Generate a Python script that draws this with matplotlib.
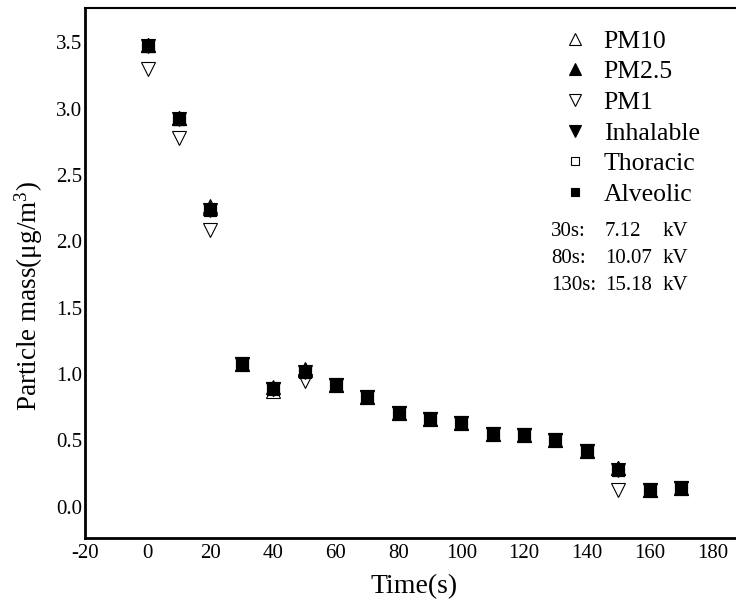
import matplotlib.pyplot as plt

plt.rcParams['font.family'] = ['Liberation Serif', 'DejaVu Serif']
plt.rcParams['mathtext.fontset'] = 'custom'
plt.rcParams['mathtext.rm'] = 'Liberation Serif'
plt.rcParams['axes.unicode_minus'] = False

# Data
time = [0, 10, 20, 30, 40, 50, 60, 70, 80, 90, 100, 110, 120, 130, 140, 150, 160, 170]
pm10 = [3.48, 2.93, 2.27, 1.08, 0.87, 1.03, 0.92, 0.83, 0.71, 0.66, 0.63, 0.55, 0.54, 0.50, 0.42, 0.29, 0.13, 0.14]
pm25 = [3.48, 2.93, 2.25, 1.08, 0.90, 1.04, 0.92, 0.83, 0.71, 0.66, 0.63, 0.55, 0.54, 0.50, 0.42, 0.29, 0.13, 0.14]
pm1 = [3.30, 2.78, 2.09, 1.08, 0.89, 0.95, 0.92, 0.83, 0.71, 0.66, 0.63, 0.55, 0.54, 0.50, 0.42, 0.13, 0.13, 0.14]
inhalable = [3.47, 2.92, 2.24, 1.08, 0.89, 1.02, 0.92, 0.83, 0.71, 0.66, 0.63, 0.55, 0.54, 0.50, 0.42, 0.28, 0.13, 0.14]
thoracic = [3.47, 2.92, 2.24, 1.08, 0.89, 1.02, 0.92, 0.83, 0.71, 0.66, 0.63, 0.55, 0.54, 0.50, 0.42, 0.28, 0.13, 0.14]
alveolic = [3.47, 2.92, 2.24, 1.08, 0.89, 1.02, 0.92, 0.83, 0.71, 0.66, 0.63, 0.55, 0.54, 0.50, 0.42, 0.28, 0.13, 0.14]

voltage_times = ['30s:', '80s:', '130s:']
voltages = ['7.12', '10.07', '15.18']

fig = plt.figure(figsize=(7.36, 6.04), dpi=100)
ax = fig.add_axes([85 / 736, (604 - 538) / 604, 690 / 736, 530 / 604])

series = [
    (pm10, '^', 'white', 'PM10'),
    (pm25, '^', 'black', 'PM2.5'),
    (pm1, 'v', 'white', 'PM1'),
    (inhalable, 'v', 'black', 'Inhalable'),
    (thoracic, 's', 'white', 'Thoracic'),
    (alveolic, 's', 'black', 'Alveolic'),
]
for vals, m, fc, lab in series:
    ms = 8 if m == 's' else 10
    ax.plot(time, vals, linestyle='none', marker=m, markersize=ms,
            markerfacecolor=fc, markeredgecolor='black', markeredgewidth=0.8,
            label=lab)

ax.set_xlim(-20, 200)
ax.set_ylim(-0.235, 3.76)
ax.set_xticks(range(-20, 200, 20))
ax.set_yticks([0.0, 0.5, 1.0, 1.5, 2.0, 2.5, 3.0, 3.5])
ax.set_yticklabels(['0.0', '0.5', '1.0', '1.5', '2.0', '2.5', '3.0', '3.5'])
ax.tick_params(length=0, labelsize=15, pad=2)
ax.tick_params(axis='x', pad=4)

ax.spines['right'].set_visible(False)
ax.spines['left'].set_linewidth(2)
ax.spines['bottom'].set_linewidth(2)
ax.spines['top'].set_linewidth(1.5)

ax.set_xlabel('Time(s)', fontsize=20)
ax.xaxis.set_label_coords(0.477, -0.068)
ax.set_ylabel(r'Particle mass($\mathrm{\mu g/m^3}$)', fontsize=19.5)
ax.yaxis.set_label_coords(-0.058, 0.457)

leg = ax.legend(loc='upper left', bbox_to_anchor=(0.655, 1.003), frameon=False,
                fontsize=18.5, markerscale=0.8, handletextpad=0.5,
                labelspacing=0.3, handlelength=1.2)

for i, (t, v) in enumerate(zip(voltage_times, voltages)):
    y = 232 + i * 26.5
    fig.text(551 / 736, 1 - y / 604, t, fontsize=15, va='center', ha='left')
    fig.text(605 / 736, 1 - y / 604, v, fontsize=15, va='center', ha='left')
    fig.text(663 / 736, 1 - y / 604, 'kV', fontsize=15, va='center', ha='left')

fig.savefig('out.png', dpi=100)
